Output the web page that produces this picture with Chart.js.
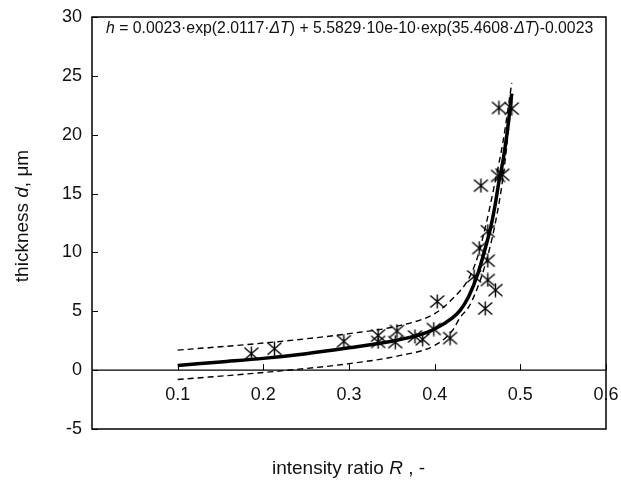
<!DOCTYPE html>
<html><head><meta charset="utf-8">
<script src="https://cdn.jsdelivr.net/npm/chart.js@4"></script>
<style>html,body{margin:0;padding:0;background:#fff}</style>
</head><body>
<canvas id="c" width="621" height="482"></canvas>
<script>
// measured points
const measR = [0.186,0.213,0.294,0.334,0.334,0.356,0.354,0.377,0.386,0.399,0.403,0.418,0.446,0.452,0.454,0.459,0.462,0.462,0.462,0.471,0.474,0.479,0.475,0.490];
const measD = [1.40,1.82,2.45,2.95,2.40,3.32,2.38,2.86,2.62,3.49,5.83,2.72,7.96,10.37,15.67,5.24,11.8,9.3,7.66,6.80,16.5,16.6,22.28,22.22];
// fitted curve
const fitR = [0.10,0.15,0.20,0.25,0.30,0.35,0.38,0.40,0.42,0.43,0.44,0.45,0.46,0.465,0.47,0.475,0.48,0.485,0.49];
const fitH = [0.40,0.70,1.00,1.40,1.90,2.45,2.95,3.50,4.40,5.10,6.30,8.10,10.6,12.0,13.8,16.0,17.9,20.4,23.5];
// upper band
const upR = [0.10,0.20,0.30,0.36,0.40,0.42,0.44,0.45,0.46,0.47,0.48,0.49];
const upH = [1.7,2.3,3.1,3.8,4.8,6.0,7.8,9.6,12.4,15.8,19.5,24.4];
// lower band
const loR = [0.10,0.20,0.30,0.36,0.40,0.42,0.43,0.44,0.45,0.46,0.47,0.48,0.49];
const loH = [-0.8,-0.2,0.55,1.25,2.1,3.3,4.5,5.4,7.0,9.2,12.2,16.5,23.0];
// ticks
const xTicks = [0.1,0.2,0.3,0.4,0.5,0.6];
const yTicks = [-5,0,5,10,15,20,25,30];

const pts = (a,b) => a.map((v,i)=>({x:v,y:b[i]}));

// asterisk marker
const mk = document.createElement('canvas');
mk.width = 17; mk.height = 15;
(function(){
  const c = mk.getContext('2d');
  c.strokeStyle = '#000'; c.lineWidth = 1.4;
  c.beginPath();
  c.moveTo(1.5,1.5); c.lineTo(15.5,13.5);
  c.moveTo(15.5,1.5); c.lineTo(1.5,13.5);
  c.moveTo(8.5,0.5); c.lineTo(8.5,14.5);
  c.stroke();
})();

function drawRich(ctx, parts, size, x, y, align){
  const fam = '"Liberation Sans", Arial, sans-serif';
  let w = 0;
  parts.forEach(p=>{ ctx.font = (p.i?'italic ':'') + size + 'px ' + fam; p.w = ctx.measureText(p.t).width; w += p.w; });
  let cx = align === 'center' ? x - w/2 : x;
  parts.forEach(p=>{ ctx.font = (p.i?'italic ':'') + size + 'px ' + fam; ctx.fillText(p.t, cx, y); cx += p.w; });
}

const deco = {
  id:'deco',
  afterDraw(chart){
    const ctx = chart.ctx, a = chart.chartArea, xs = chart.scales.x, ys = chart.scales.y;
    ctx.save();
    ctx.strokeStyle = '#000';
    const y0 = ys.getPixelForValue(0);
    ctx.lineWidth = 1.3;
    ctx.beginPath(); ctx.moveTo(a.left, y0); ctx.lineTo(a.right, y0); ctx.stroke();
    ctx.lineWidth = 1;
    xTicks.forEach(v=>{ const px = Math.round(xs.getPixelForValue(v))+0.5; ctx.beginPath(); ctx.moveTo(px,y0); ctx.lineTo(px,y0-6); ctx.stroke(); });
    yTicks.forEach(v=>{ const py = Math.round(ys.getPixelForValue(v))+0.5; ctx.beginPath(); ctx.moveTo(a.left,py); ctx.lineTo(a.left+6,py); ctx.stroke(); });
    ctx.lineWidth = 1.5;
    ctx.strokeRect(a.left, a.top, a.right-a.left, a.bottom-a.top);
    ctx.fillStyle = '#111';
    ctx.textBaseline = 'alphabetic';
    ctx.textAlign = 'left';
    drawRich(ctx, [{t:'h',i:true},{t:' = 0.0023\u00b7exp(2.0117\u00b7'},{t:'\u0394T',i:true},{t:') + 5.5829\u00b710e-10\u00b7exp(35.4608\u00b7'},{t:'\u0394T',i:true},{t:')-0.0023'}], 15.8, 106, 33, 'left');
    drawRich(ctx, [{t:'intensity ratio '},{t:'R',i:true},{t:' , -'}], 19, 348.5, 474, 'center');
    ctx.save();
    ctx.translate(28, 216);
    ctx.rotate(-Math.PI/2);
    drawRich(ctx, [{t:'thickness '},{t:'d',i:true},{t:', \u03bcm'}], 19, 0, 0, 'center');
    ctx.restore();
    ctx.restore();
  }
};

new Chart(document.getElementById('c'), {
  type:'scatter',
  data:{ datasets:[
    {data:pts(measR,measD), pointStyle:mk, pointRadius:8, showLine:false, order:0},
    {data:pts(fitR,fitH), showLine:true, borderColor:'#000', borderWidth:3.5, pointRadius:0, cubicInterpolationMode:'monotone', order:1},
    {data:pts(upR,upH), showLine:true, borderColor:'#000', borderWidth:1.4, borderDash:[6,4], pointRadius:0, cubicInterpolationMode:'monotone', order:2},
    {data:pts(loR,loH), showLine:true, borderColor:'#000', borderWidth:1.4, borderDash:[6,4], pointRadius:0, cubicInterpolationMode:'monotone', order:2}
  ]},
  options:{
    responsive:false, animation:false,
    layout:{padding:{left:0,right:15,top:17,bottom:53}},
    plugins:{legend:{display:false}, tooltip:{enabled:false}},
    scales:{
      x:{ type:'linear', min:0, max:0.6, position:{y:0},
        afterBuildTicks: s => { s.ticks = xTicks.map(v=>({value:v})); },
        afterFit: s => { s.height = 0; s.paddingLeft = 0; s.paddingRight = 0; },
        grid:{display:false, drawTicks:false}, border:{display:false},
        ticks:{padding:14, color:'#111', font:{family:'"Liberation Sans", Arial, sans-serif', size:18}, callback:v=>v.toFixed(1)} },
      y:{ type:'linear', min:-5, max:30, position:'left',
        afterBuildTicks: s => { s.ticks = yTicks.map(v=>({value:v})); },
        afterFit: s => { s.width = 92; s.paddingTop = 0; s.paddingBottom = 0; },
        grid:{display:false, drawTicks:false}, border:{display:false},
        ticks:{padding:10, color:'#111', font:{family:'"Liberation Sans", Arial, sans-serif', size:18}, callback:v=>String(v)} }
    }
  },
  plugins:[deco]
});
</script>
</body></html>
